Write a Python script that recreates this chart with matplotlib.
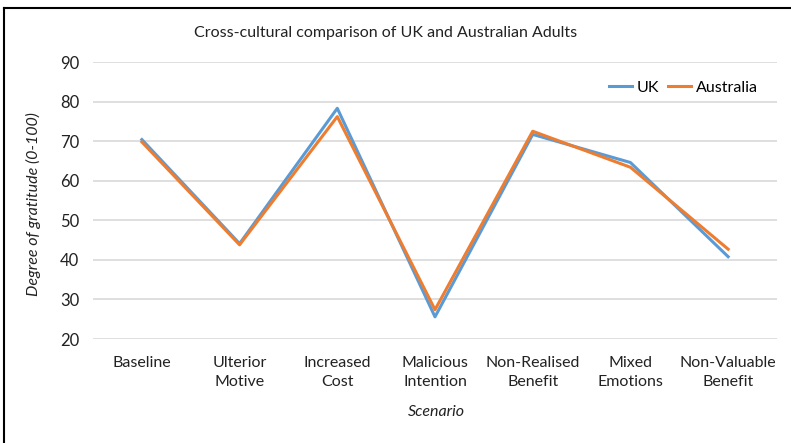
import matplotlib.pyplot as plt
from matplotlib.lines import Line2D

# data
scenarios = ["Baseline", "Ulterior\nMotive", "Increased\nCost", "Malicious\nIntention",
             "Non-Realised\nBenefit", "Mixed\nEmotions", "Non-Valuable\nBenefit"]
uk = [70.4, 44.1, 78.3, 25.6, 71.7, 64.6, 40.8]
australia = [69.8, 43.8, 76.2, 27.4, 72.5, 63.4, 42.7]
yticks = [20, 30, 40, 50, 60, 70, 80, 90]

plt.rcParams['font.family'] = ['Lato', 'DejaVu Sans']

W, H = 791, 443
fig = plt.figure(figsize=(W / 100, H / 100), dpi=100)
ax = fig.add_axes([93 / W, 1 - 339 / H, (777 - 93) / W, (339 - 62) / H])

x = range(len(scenarios))
ax.plot(x, uk, color="#5B9BD5", lw=2.2, label="UK")
ax.plot(x, australia, color="#ED7D31", lw=2.2, label="Australia")

ax.set_xlim(-0.5, len(scenarios) - 0.5)
ax.set_ylim(20, 90)
ax.set_yticks(yticks)
ax.set_xticks(list(x))
ax.set_xticklabels(scenarios, fontsize=11.5, color="#222222", linespacing=1.45)
ax.tick_params(axis="y", labelsize=12, colors="#222222", length=0, pad=10)
ax.tick_params(axis="x", length=0, pad=12)
ax.grid(axis="y", color="#D9D9D9", lw=1.2)
ax.set_axisbelow(True)
for s in ax.spines.values():
    s.set_visible(False)

fig.text(386 / W, 1 - 33 / H, "Cross-cultural comparison of UK and Australian Adults",
         ha="center", va="center", fontsize=11.5, color="#222222")
fig.text(33 / W, 1 - 204 / H, "Degree of gratitude (0-100)", rotation=90, style="italic",
         ha="center", va="center", fontsize=11.5, color="#222222")
fig.text(436 / W, 1 - 412 / H, "Scenario", style="italic",
         ha="center", va="center", fontsize=11.5, color="#222222")

ax.legend(loc="upper right", bbox_to_anchor=(772 / W, 1 - 66 / H), bbox_transform=fig.transFigure,
          ncol=2, frameon=False, fontsize=11.5, handlelength=1.4, handletextpad=0.3,
          columnspacing=0.6)

# outer border (top and left only visible)
fig.add_artist(Line2D([4 / W, 4 / W], [0, 1 - 8 / H], color="black", lw=1.5, transform=fig.transFigure))
fig.add_artist(Line2D([4 / W, 1], [1 - 8 / H, 1 - 8 / H], color="black", lw=1.5, transform=fig.transFigure))

fig.savefig("out.png", dpi=100)
